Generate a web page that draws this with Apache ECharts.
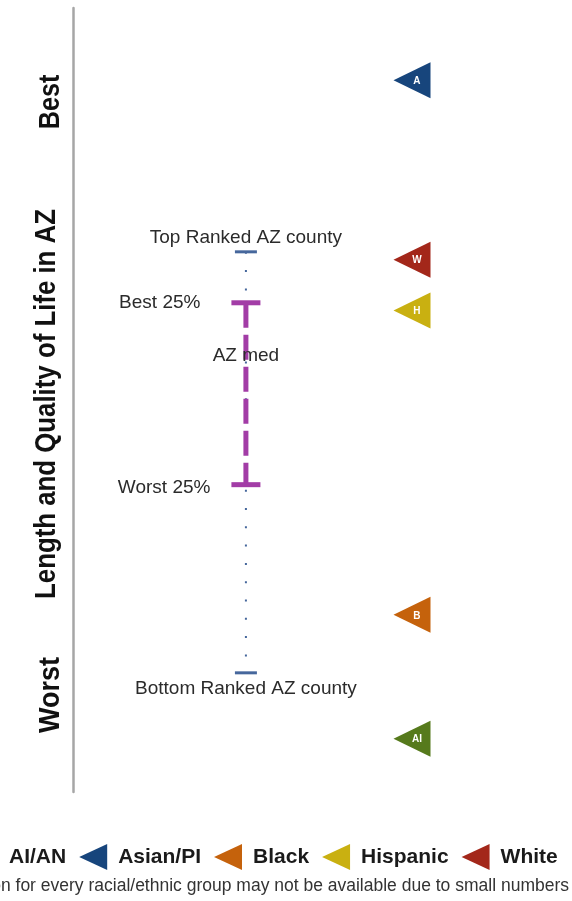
<!DOCTYPE html>
<html>
<head>
<meta charset="utf-8">
<script src="https://cdn.jsdelivr.net/npm/echarts@6/dist/echarts.min.js"></script>
<style>
html,body{margin:0;padding:0;background:#fff;}
#c{width:572px;height:901px;}
</style>
</head>
<body>
<div id="c"></div>
<script>
// ---- data ----
const distNames = ['Top Ranked AZ county', 'Best 25%', 'AZ med', 'Worst 25%', 'Bottom Ranked AZ county'];
const distValues = [68.9, 62.4, 55.7, 39.2, 15.2];
const groups = ['AI/AN', 'Asian/PI', 'Black', 'Hispanic', 'White'];
const groupCodes = ['AI', 'A', 'B', 'H', 'W'];
const groupValues = [6.8, 90.8, 22.6, 61.4, 67.9];
const groupColors = ['#567a1c', '#17457c', '#c5620c', '#c9b011', '#a3271a'];
const axisEndLabels = ['Best', 'Worst'];
const axisTitle = 'Length and Quality of Life in AZ';
const footnote = 'Information for every racial/ethnic group may not be available due to small numbers';

// ---- layout constants ----
const DIST_X = 40.4;
const GROUP_X = 79.2;
const TRI = 'path://M0,50 L100,0 L100,100 Z';
const LEG_TRI = 'path://M0,13 L28,0 L28,26 Z';
const BLUE = '#46679c';
const PURPLE = '#a23ca6';
const FONT = 'Liberation Sans, Arial, sans-serif';

const chart = echarts.init(document.getElementById('c'), null, {renderer: 'canvas'});

const capStyles = [
  {symbolSize: [22, 3], color: BLUE, label: {position: 'top', distance: 3}},
  {symbolSize: [29, 5], color: PURPLE, label: {position: 'left', distance: 31}},
  {symbolSize: 0, color: PURPLE, label: {position: 'inside'}},
  {symbolSize: [29, 5], color: PURPLE, label: {position: 'left', distance: 21, offset: [0, 3]}},
  {symbolSize: [22, 3], color: BLUE, label: {position: 'bottom', distance: 5}}
];

const capData = distNames.map((n, i) => ({
  name: n,
  value: [DIST_X, distValues[i]],
  symbolSize: capStyles[i].symbolSize,
  itemStyle: {color: capStyles[i].color, opacity: 1},
  label: Object.assign({
    show: true,
    formatter: n,
    color: '#2b2b2b',
    fontSize: 19,
    fontFamily: FONT
  }, capStyles[i].label)
}));

const groupSeries = groups.map((g, i) => ({
  name: g,
  type: 'scatter',
  symbol: TRI,
  symbolSize: [37, 36],
  itemStyle: {color: groupColors[i], opacity: 1},
  z: 5,
  label: {
    show: true,
    position: 'inside',
    offset: [5, 1],
    formatter: groupCodes[i],
    color: '#fff',
    fontSize: 10,
    fontWeight: 'bold',
    fontFamily: FONT
  },
  data: [[GROUP_X, groupValues[i]]]
}));

const option = {
  animation: false,
  backgroundColor: '#fff',
  grid: {left: 73, right: 71, top: 8, bottom: 109, containLabel: false},
  xAxis: {type: 'value', min: 0, max: 100, show: false},
  yAxis: {
    type: 'value', min: 0, max: 100,
    axisLine: {show: true, lineStyle: {color: '#a6a6a6', width: 2.5}},
    axisTick: {show: false},
    axisLabel: {show: false},
    splitLine: {show: false}
  },
  legend: {
    data: groups,
    left: -35,
    top: 839,
    itemWidth: 28,
    itemHeight: 26,
    itemGap: 13,
    icon: LEG_TRI,
    textStyle: {fontSize: 21, fontWeight: 'bold', color: '#1a1a1a', fontFamily: FONT, padding: [0, 0, 0, 6]}
  },
  graphic: [
    {type: 'text', x: 51, y: 102, rotation: Math.PI / 2, scaleX: 0.84,
      style: {text: axisEndLabels[0], fontSize: 30, fontWeight: 'bold', fontFamily: FONT, fill: '#111', align: 'center', verticalAlign: 'middle'}},
    {type: 'text', x: 51, y: 695, rotation: Math.PI / 2, scaleX: 0.9,
      style: {text: axisEndLabels[1], fontSize: 30, fontWeight: 'bold', fontFamily: FONT, fill: '#111', align: 'center', verticalAlign: 'middle'}},
    {type: 'text', x: 47, y: 404, rotation: Math.PI / 2, scaleX: 0.86,
      style: {text: axisTitle, fontSize: 30, fontWeight: 'bold', fontFamily: FONT, fill: '#111', align: 'center', verticalAlign: 'middle'}},
    {type: 'text', x: 569, y: 886,
      style: {text: footnote, fontSize: 17.5, fontFamily: FONT, fill: '#333', align: 'right', verticalAlign: 'middle'}}
  ],
  series: [
    {
      type: 'line', silent: true, symbol: 'none', z: 1,
      lineStyle: {color: BLUE, width: 2, type: [2, 16.3]},
      data: [[DIST_X, distValues[0]], [DIST_X, distValues[4]]]
    },
    {
      type: 'line', silent: true, symbol: 'none', z: 2,
      lineStyle: {color: PURPLE, width: 5, type: [25, 7]},
      data: [[DIST_X, distValues[1]], [DIST_X, distValues[3]]]
    },
    {
      type: 'scatter', symbol: 'rect', z: 3, silent: true,
      data: capData
    }
  ].concat(groupSeries)
};
chart.setOption(option);
</script>
</body>
</html>
